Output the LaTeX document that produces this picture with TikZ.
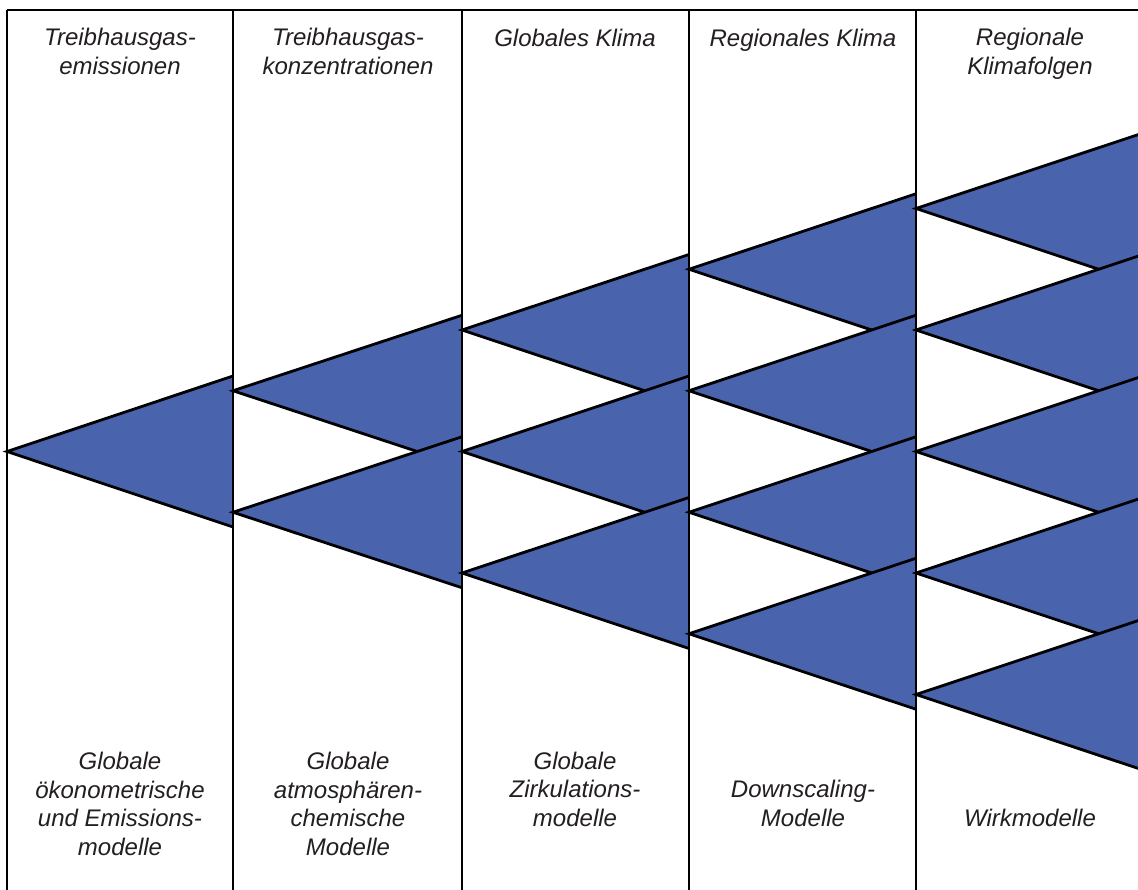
\documentclass[tikz,border=0pt]{standalone}
\usepackage{fontspec}
\setmainfont{Liberation Sans}
\definecolor{triblue}{RGB}{74,99,173}
\definecolor{txt}{RGB}{35,31,32}
\tikzset{
  trifill/.style={fill=triblue},
  triedge/.style={draw=black,line width=2.8pt,line join=miter},
  frame/.style={draw=black,line width=2.8pt},
  lbl/.style={font=\itshape\fontsize{24}{28.5}\selectfont,align=center,anchor=base,inner sep=0pt,text=txt}
}
\begin{document}
\begin{tikzpicture}[x=1pt,y=-1pt]
\useasboundingbox (0,0) rectangle (1138,889);
\fill[white] (0,0) rectangle (1138,889);
\begin{scope}
\clip (0,0) rectangle (1138,889);
\foreach \k in {0,...,4}{
  \foreach \i in {0,...,\k}{
    \pgfmathsetmacro\xa{{7,233,462,689,916,1143}[\k]}
    \pgfmathsetmacro\xb{{7,233,462,689,916,1143}[\k+1]}
    \pgfmathsetmacro\ya{451.5+(\i-\k/2)*121.5}
    \fill[trifill] (\xa,\ya) -- (\xb,\ya-75.5) -- (\xb,\ya+75.5) -- cycle;
    \draw[triedge] (\xb,\ya-75.5) -- (\xa,\ya) -- (\xb,\ya+75.5);
  }
}
\draw[frame] (7,10) -- (1140,10);
\foreach \x in {7,233,462,689,916}{
  \draw[frame] (\x,10) -- (\x,892);
}
\end{scope}
% headers (anchor = baseline of last line)
\node[lbl] (h1) at (120,74) {Treibhausgas-\\emissionen};
\node[lbl] (h2) at (348,74) {Treibhausgas-\\konzentrationen};
\node[lbl] (h3) at (575,46) {Globales Klima};
\node[lbl] (h4) at (803,46) {Regionales Klima};
\node[lbl] (h5) at (1030,74) {Regionale\\Klimafolgen};
% model labels
\node[lbl] (m1) at (120,855) {Globale\\ökonometrische\\und Emissions-\\modelle};
\node[lbl] (m2) at (348,855) {Globale\\atmosphären-\\chemische\\Modelle};
\node[lbl] (m3) at (575,826) {Globale\\Zirkulations-\\modelle};
\node[lbl] (m4) at (803,826) {Downscaling-\\Modelle};
\node[lbl] (m5) at (1030,826) {Wirkmodelle};
\end{tikzpicture}
\end{document}
